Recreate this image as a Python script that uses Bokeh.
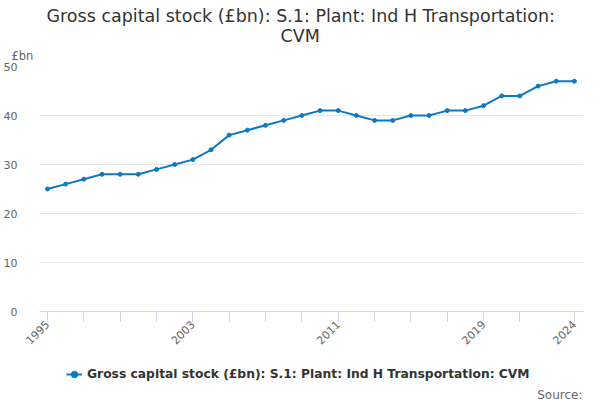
from bokeh.plotting import figure
from bokeh.models import (Label, Title, Legend, LegendItem, FixedTicker, Range1d, ColumnDataSource)
from bokeh.layouts import column
from bokeh.embed import file_html
from bokeh.resources import INLINE
import math

years = list(range(1995, 2025))
values = [25, 26, 27, 28, 28, 28, 29, 30, 31, 33, 36, 37, 38, 39, 40, 41, 41, 40, 39, 39,
          40, 40, 41, 41, 42, 44, 44, 46, 47, 47]
tick_years = [1995, 1997, 1999, 2001, 2003, 2005, 2007, 2009, 2011, 2013, 2015, 2017, 2019, 2021, 2024]
labelled_years = [1995, 2003, 2011, 2019, 2024]
y_ticks = [0, 10, 20, 30, 40, 50]
series_name = "Gross capital stock (£bn): S.1: Plant: Ind H Transportation: CVM"
title_lines = ["Gross capital stock (£bn): S.1: Plant: Ind H Transportation:", "CVM"]
unit_label = "£bn"
source_label = "Source:"

FONT = "DejaVu Sans"
BLUE = "#0b7bc1"
W = 600
H_MAIN, H_BOT = 355, 45
BL, BR = 39, 17

# ---- main chart ----
p = figure(width=W, height=H_MAIN, output_backend="svg", toolbar_location=None,
           x_range=Range1d(1994.56, 2024.5), y_range=Range1d(0, 50), title=None,
           min_border_left=BL, min_border_right=BR, min_border_top=66, min_border_bottom=44)
p.outline_line_color = None
p.background_fill_color = "white"
p.border_fill_color = "white"

src = ColumnDataSource(dict(x=years, y=values))
p.line("x", "y", source=src, line_color=BLUE, line_width=2)
p.scatter("x", "y", source=src, size=4, fill_color=BLUE, line_color=BLUE)

xa = p.xaxis[0]
xa.ticker = FixedTicker(ticks=tick_years)
xa.major_label_overrides = {y: (str(y) if y in labelled_years else "") for y in tick_years}
xa.axis_line_color = "#ccd6eb"
xa.major_tick_line_color = "#ccd6eb"
xa.major_tick_out = 10
xa.major_tick_in = 0
xa.minor_tick_line_color = None
xa.major_label_orientation = math.pi / 4
xa.major_label_text_font = FONT
xa.major_label_text_font_size = "11px"
xa.major_label_text_color = "#666666"
xa.major_label_standoff = 1

ya = p.yaxis[0]
ya.ticker = FixedTicker(ticks=y_ticks)
ya.axis_line_color = None
ya.major_tick_line_color = None
ya.minor_tick_line_color = None
ya.major_label_text_font = FONT
ya.major_label_text_font_size = "11px"
ya.major_label_text_color = "#666666"
ya.major_label_standoff = 16

p.xgrid.grid_line_color = None
p.ygrid.grid_line_color = "#e6e6e6"
p.ygrid.ticker = FixedTicker(ticks=y_ticks)

# titles stacked above the frame (first added sits closest to the frame)
p.add_layout(Title(text=unit_label, align="left", offset=-28, standoff=7,
                   text_font=FONT, text_font_size="11.5px", text_color="#666666",
                   text_font_style="normal"), "above")
p.add_layout(Title(text=title_lines[1], align="left", offset=241, standoff=-4,
                   text_font=FONT, text_font_size="17.5px", text_color="#333333",
                   text_font_style="normal"), "above")
p.add_layout(Title(text=title_lines[0], align="left", offset=7, standoff=-1,
                   text_font=FONT, text_font_size="17.5px", text_color="#333333",
                   text_font_style="normal"), "above")

# ---- bottom strip: legend and source (x data units equal page pixels) ----
bot = figure(width=W, height=H_BOT, output_backend="svg", toolbar_location=None,
             x_range=Range1d(BL, W - BR), y_range=Range1d(0, H_BOT),
             x_axis_location=None, y_axis_location=None, title=None,
             min_border_left=BL, min_border_right=BR, min_border_top=0, min_border_bottom=0)
bot.outline_line_color = None
bot.xgrid.grid_line_color = None
bot.ygrid.grid_line_color = None
bot.background_fill_color = "white"
bot.border_fill_color = "white"
# same series, drawn outside this strip's visible range: only its legend swatch shows
lg_line = bot.line("x", "y", source=src, line_color=BLUE, line_width=2)
lg_pt = bot.scatter("x", "y", source=src, size=4, fill_color=BLUE, line_color=BLUE)
legend = Legend(items=[LegendItem(label=series_name, renderers=[lg_line, lg_pt])],
                location=(66 - BL, 16), orientation="horizontal",
                label_text_font=FONT, label_text_font_size="12.3px",
                label_text_font_style="bold", label_text_color="#333333",
                glyph_width=16, glyph_height=20, label_standoff=5, border_line_color=None,
                background_fill_alpha=0, padding=0, margin=0)
bot.add_layout(legend, "center")
bot.add_layout(Label(x=W - BR - 1, y=6, text=source_label, text_font=FONT,
                     text_font_size="12px", text_color="#666666",
                     text_align="right", text_baseline="alphabetic"))

layout = column(p, bot, spacing=0)
open("out.html", "w").write(file_html(layout, INLINE))
